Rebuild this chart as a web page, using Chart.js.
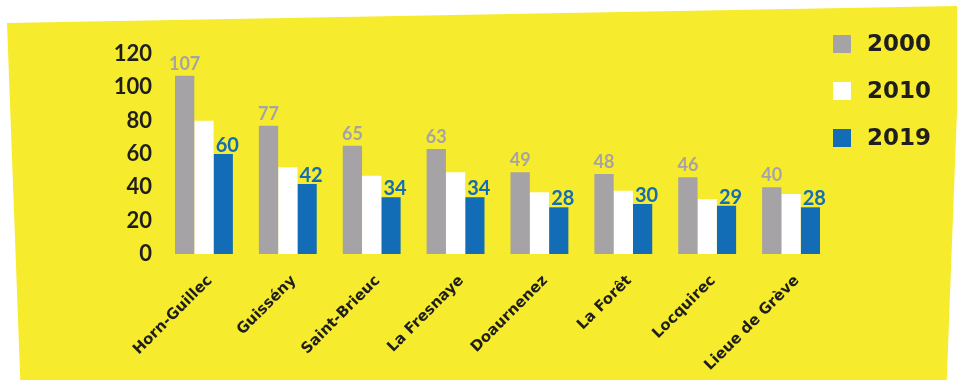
<!DOCTYPE html>
<html>
<head>
<meta charset="utf-8">
<script src="https://cdn.jsdelivr.net/npm/chart.js@4/dist/chart.umd.min.js"></script>
<style>
  html, body { margin: 0; padding: 0; background: #fff; }
  #wrap { width: 957px; height: 380px; position: relative; }
</style>
</head>
<body>
<div id="wrap"><canvas id="chart"></canvas></div>
<script>
// données
const communes = ["Horn-Guillec", "Guissény", "Saint-Brieuc", "La Fresnaye", "Doaurnenez", "La Forêt", "Locquirec", "Lieue de Grève"];
const annees = ["2000", "2010", "2019"];
const val2000 = [107, 77, 65, 63, 49, 48, 46, 40];
const val2010 = [80, 52, 47, 49, 37, 38, 33, 36];
const val2019 = [60, 42, 34, 34, 28, 30, 29, 28];
const yMax = 120;
const yStep = 20;

const GRIS = "#a5a3a6";
const BLANC = "#ffffff";
const BLEU = "#136db6";
const JAUNE = "#f7eb2d";
const NOIR = "#1e1e1e";
const FONT = "Lato, 'DejaVu Sans', sans-serif";
const FONT_LARGE = "'DejaVu Sans', sans-serif";

// fond jaune un peu de travers
const fondJaune = {
  id: "fondJaune",
  beforeDraw(chart) {
    const ctx = chart.ctx;
    ctx.save();
    ctx.fillStyle = JAUNE;
    ctx.beginPath();
    ctx.moveTo(7, 23);
    ctx.lineTo(961, 6);
    ctx.lineTo(946, 400);
    ctx.lineTo(21, 400);
    ctx.closePath();
    ctx.fill();
    ctx.restore();
  }
};

// valeurs au-dessus des barres grises et bleues
const etiquettes = {
  id: "etiquettes",
  afterDatasetsDraw(chart) {
    const ctx = chart.ctx;
    ctx.save();
    ctx.textAlign = "center";
    ctx.textBaseline = "alphabetic";
    [[0, GRIS, "bold 18px " + FONT, 0, 6], [2, BLEU, "bold 20px " + FONT, 4, 2]].forEach(([i, col, font, dx, gap]) => {
      const meta = chart.getDatasetMeta(i);
      ctx.fillStyle = col;
      ctx.font = font;
      meta.data.forEach((bar, j) => {
        ctx.fillText(chart.data.datasets[i].data[j], bar.x + dx, bar.y - gap);
      });
    });
    ctx.restore();
  }
};

// légende à droite
const legende = {
  id: "legende",
  afterDraw(chart) {
    const ctx = chart.ctx;
    const couleurs = [GRIS, BLANC, BLEU];
    ctx.save();
    ctx.font = "bold 23px " + FONT_LARGE;
    ctx.textBaseline = "middle";
    ctx.textAlign = "left";
    annees.forEach((a, i) => {
      const y = 35 + i * 47;
      ctx.fillStyle = couleurs[i];
      ctx.fillRect(833, y, 18, 18);
      ctx.fillStyle = NOIR;
      ctx.fillText(a, 867, y + 10);
    });
    ctx.restore();
  }
};

new Chart(document.getElementById("chart"), {
  type: "bar",
  data: {
    labels: communes,
    datasets: [
      { label: annees[0], data: val2000, backgroundColor: GRIS },
      { label: annees[1], data: val2010, backgroundColor: BLANC },
      { label: annees[2], data: val2019, backgroundColor: BLEU }
    ]
  },
  options: {
    responsive: true,
    maintainAspectRatio: false,
    animation: false,
    layout: { padding: { top: 54, right: 124, left: 0, bottom: 0 } },
    datasets: { bar: { barPercentage: 1, categoryPercentage: 0.69 } },
    plugins: {
      legend: { display: false },
      tooltip: { enabled: false }
    },
    scales: {
      x: {
        grid: { display: false },
        border: { display: false },
        afterFit: (s) => { s.height = 126; },
        ticks: {
          autoSkip: false,
          minRotation: 45,
          maxRotation: 45,
          padding: 10,
          labelOffset: 6,
          color: NOIR,
          font: { family: FONT_LARGE, size: 15, weight: "bold" }
        }
      },
      y: {
        min: 0,
        max: yMax,
        grid: { display: false, drawTicks: false },
        border: { display: false },
        afterFit: (s) => { s.width = 162; },
        ticks: {
          stepSize: yStep,
          padding: 10,
          color: NOIR,
          font: { family: FONT, size: 22, weight: "bold" }
        }
      }
    }
  },
  plugins: [fondJaune, etiquettes, legende]
});
</script>
</body>
</html>
